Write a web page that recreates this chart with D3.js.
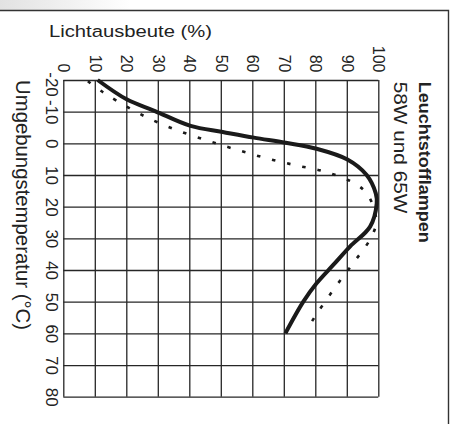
<!DOCTYPE html>
<html>
<head>
<meta charset="utf-8">
<script src="https://cdn.jsdelivr.net/npm/d3@7/dist/d3.min.js"></script>
<style>
  html, body { margin: 0; padding: 0; background: #fff; }
  svg { display: block; }
  text { font-family: "Liberation Sans", Arial, Helvetica, sans-serif; fill: #222; }
</style>
</head>
<body>
<svg id="chart" width="456" height="424"></svg>
<script>
// Lichtausbeute (%) against Umgebungstemperatur (°C)
const pctTicks = [0, 10, 20, 30, 40, 50, 60, 70, 80, 90, 100];
const pctLabels = ["0", "10", "20", "30", "40", "50", "60", "70", "80", "90", "100"];
const tempTicks = [-20, -10, 0, 10, 20, 30, 40, 50, 60, 70, 80];
const tempLabels = ["-20", "-10", "0", "10", "20", "30", "40", "50", "60", "70", "80"];

// solid curve
const solidTemp = [-20, -13.9, -10.2, -5.5, -3.6, -1.8, -0.2, 1.7, 5.1, 10, 15.8, 19, 26.3, 32.6, 38.4, 44.2, 50, 60];
const solidPct  = [10.9, 20.1, 29.1, 40.4, 50.6, 60.5, 70.6, 80.4, 90.2, 96.3, 99.2, 99.5, 97.4, 91, 85.7, 80.4, 76.2, 70.5];

// dotted curve
const dottedTemp = [-19.6, -16.2, -13.4, -8.6, -4.6, -1.3, 1.7, 4.5, 6.9, 9.0, 12.7, 15.8, 20.5, 25.3, 30.3, 38.4, 46.3, 54.7, 59.3];
const dottedPct  = [7.8, 12.5, 17, 25.7, 34.9, 44.4, 54, 63.7, 73.6, 83.3, 92.6, 96.3, 98.6, 99.3, 97.4, 91.6, 85.7, 79.9, 77.1];

const titleY = "Lichtausbeute (%)";
const titleX = "Umgebungstemperatur (°C)";
const legendTitle = "Leuchtstofflampen";
const legendSub = "58W und 65W";

const svg = d3.select("#chart");
const ink = "#262626";

// page frame with faint shading in the upper left corner
const defs = svg.append("defs");
const grad = defs.append("linearGradient").attr("id", "shade").attr("x1", 0).attr("x2", 1);
grad.append("stop").attr("offset", 0).attr("stop-color", "#e2e2e2");
grad.append("stop").attr("offset", 1).attr("stop-color", "#ffffff");
svg.append("rect").attr("x", 0).attr("y", 0).attr("width", 130).attr("height", 10).attr("fill", "url(#shade)");
svg.append("path")
  .attr("d", "M0,10.5 H448.5 V424")
  .attr("fill", "none").attr("stroke", "#333").attr("stroke-width", 1.4);

// scales: percentage runs left→right, temperature runs top→bottom
const x = d3.scaleLinear().domain([0, 100]).range([63.3, 378.3]);
const y = d3.scaleLinear().domain([-20, 80]).range([80, 396.7]);

// grid
const gridV = svg.append("g").attr("transform", `translate(0,${y(80)})`)
  .call(d3.axisBottom(x).tickValues(pctTicks).tickSize(-(y(80) - y(-20))).tickFormat(""));
const gridH = svg.append("g").attr("transform", `translate(${x(0)},0)`)
  .call(d3.axisLeft(y).tickValues(tempTicks).tickSize(-(x(100) - x(0))).tickFormat(""));
[gridV, gridH].forEach(g => {
  g.select(".domain").remove();
  g.selectAll(".tick line").attr("stroke", ink).attr("stroke-width", 1.3);
});

// percentage tick labels (rotated, reading downward)
const axTop = svg.append("g").attr("transform", `translate(0,${y(-20)})`)
  .call(d3.axisTop(x).tickValues(pctTicks).tickSize(0).tickPadding(0)
    .tickFormat((d, i) => pctLabels[i]));
axTop.select(".domain").remove();
axTop.selectAll(".tick text")
  .attr("x", 0).attr("y", 0).attr("dy", null)
  .attr("transform", "translate(0,-7.5) rotate(90)")
  .attr("text-anchor", "end")
  .attr("dominant-baseline", "central")
  .attr("font-size", 16)
  .style("fill", "#222");

// temperature tick labels (rotated)
const axLeft = svg.append("g").attr("transform", `translate(${x(0)},0)`)
  .call(d3.axisLeft(y).tickValues(tempTicks).tickSize(0).tickPadding(0)
    .tickFormat((d, i) => tempLabels[i]));
axLeft.select(".domain").remove();
axLeft.selectAll(".tick text")
  .attr("x", 0).attr("y", 0).attr("dy", null)
  .attr("transform", d => `translate(-12.3,${d === -20 ? 4 : 0}) rotate(90)`)
  .attr("text-anchor", "middle")
  .attr("dominant-baseline", "central")
  .attr("font-size", 17)
  .style("fill", "#222");

// curves
const line = d3.line()
  .x(d => x(d.p))
  .y(d => y(d.t))
  .curve(d3.curveCatmullRom.alpha(0.5));

const solid = solidTemp.map((t, i) => ({ t, p: solidPct[i] }));
const dotted = dottedTemp.map((t, i) => ({ t, p: dottedPct[i] }));

svg.append("path").datum(dotted)
  .attr("d", line)
  .attr("fill", "none")
  .attr("stroke", "#1a1a1a")
  .attr("stroke-width", 2.6)
  .attr("stroke-dasharray", "3.5 12");

svg.append("path").datum(solid)
  .attr("d", line)
  .attr("fill", "none")
  .attr("stroke", "#1a1a1a")
  .attr("stroke-width", 4)
  .attr("stroke-linecap", "butt");

// axis titles
svg.append("text")
  .attr("x", 49).attr("y", 36.7)
  .attr("font-size", 16.3)
  .attr("textLength", 163).attr("lengthAdjust", "spacingAndGlyphs")
  .text(titleY);

svg.append("text")
  .attr("transform", "translate(15.5,80) rotate(90)")
  .attr("font-size", 20)
  .attr("textLength", 250).attr("lengthAdjust", "spacingAndGlyphs")
  .text(titleX);

// series label
svg.append("text")
  .attr("transform", "translate(418.5,81.7) rotate(90)")
  .attr("font-size", 16.3)
  .attr("font-weight", "bold")
  .attr("textLength", 161).attr("lengthAdjust", "spacingAndGlyphs")
  .text(legendTitle);

svg.append("text")
  .attr("transform", "translate(393.5,81.7) rotate(90)")
  .attr("font-size", 18.6)
  .attr("textLength", 131.7).attr("lengthAdjust", "spacingAndGlyphs")
  .text(legendSub);
</script>
</body>
</html>
